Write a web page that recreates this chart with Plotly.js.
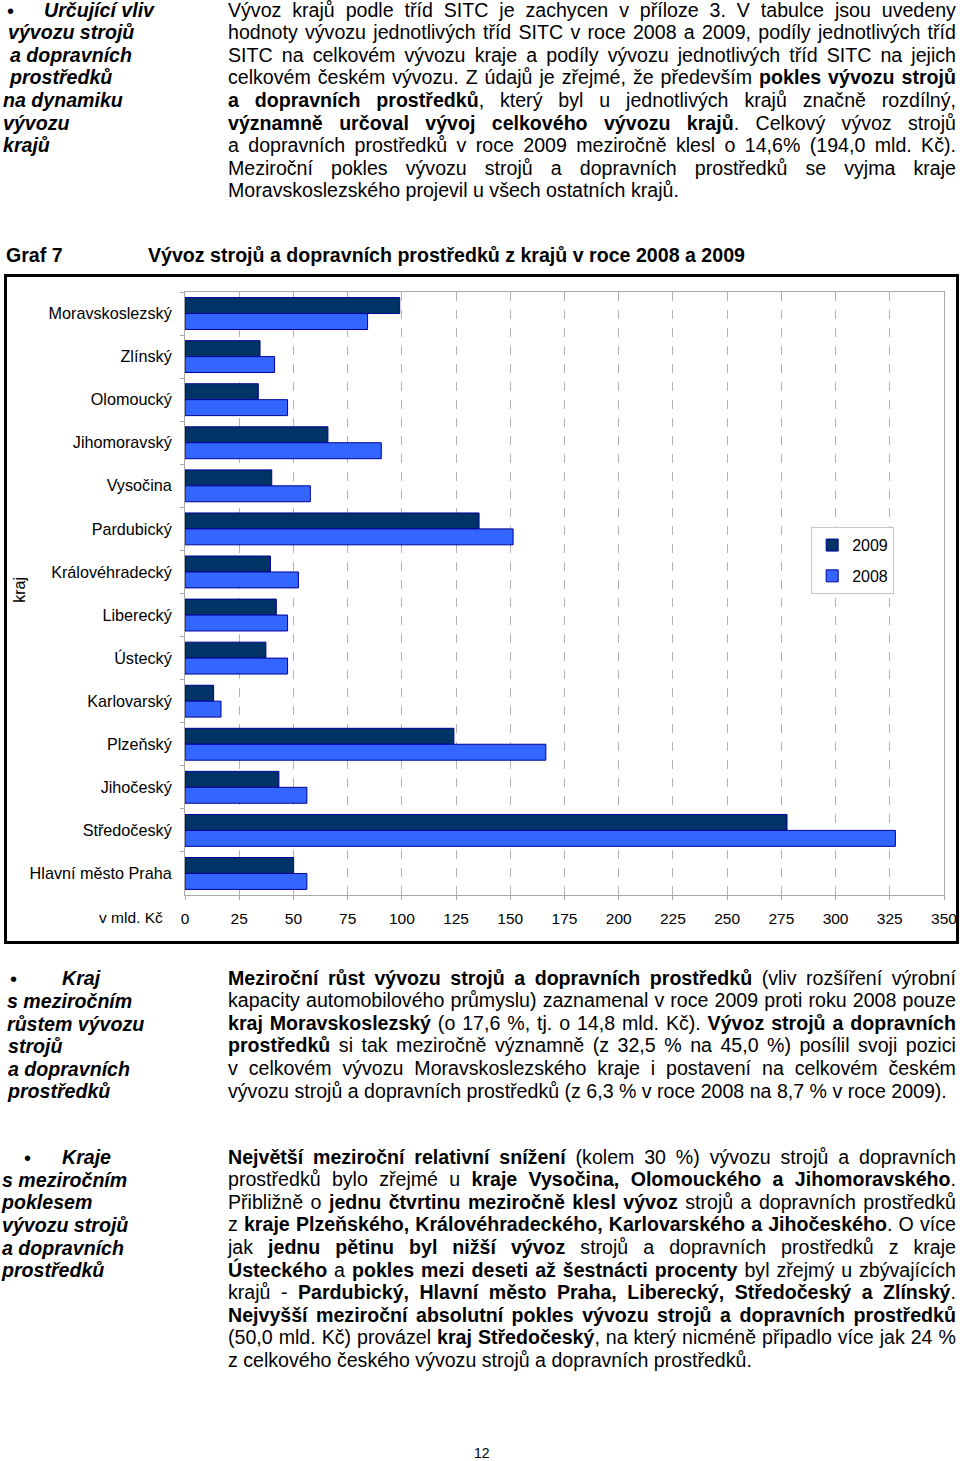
<!DOCTYPE html>
<html>
<head>
<meta charset="utf-8">
<script src="https://cdn.plot.ly/plotly-3.0.1.min.js"></script>
<style>
  html, body { margin:0; padding:0; background:#fff; }
  body { width:960px; height:1461px; position:relative; overflow:hidden;
         font-family:"Liberation Sans", Arial, sans-serif; color:#000; }
  .ln { position:absolute; height:22.6px; line-height:22.6px; font-size:19.6px; white-space:pre; }
  .jl { display:flex; justify-content:space-between; }
  .hd { font-weight:bold; font-style:italic; }
  #chart { position:absolute; left:0; top:274px; width:960px; height:672px; }
  #frame { position:absolute; left:4px; top:274px; width:955px; height:670px; box-sizing:border-box;
           border:3px solid #000; pointer-events:none; }
</style>
</head>
<body>
<div id="chart"></div>
<div id="frame"></div>
<script>
// ---------- chart data ----------
const regions = ["Moravskoslezský","Zlínský","Olomoucký","Jihomoravský","Vysočina","Pardubický",
  "Královéhradecký","Liberecký","Ústecký","Karlovarský","Plzeňský","Jihočeský","Středočeský","Hlavní město Praha"];
const export2009 = [99.0, 34.6, 33.8, 65.9, 40.0, 135.6, 39.4, 42.1, 37.3, 13.2, 124.0, 43.3, 277.6, 50.1];
const export2008 = [84.2, 41.3, 47.3, 90.5, 57.8, 151.3, 52.3, 47.3, 47.3, 16.6, 166.4, 56.2, 327.6, 56.2];
const seriesNames = ["2009", "2008"];
const xTicks = [0,25,50,75,100,125,150,175,200,225,250,275,300,325,350];

// ---------- text ----------
const topLeft = ["Určující vliv","vývozu strojů","a dopravních","prostředků","na dynamiku","vývozu","krajů"];
const topLeftX = [44,8,10,10,3,3,3];
const topRight = [
 "Vývoz krajů podle tříd SITC je zachycen v příloze 3. V tabulce jsou uvedeny",
 "hodnoty vývozu jednotlivých tříd SITC v roce 2008 a 2009, podíly jednotlivých tříd",
 "SITC na celkovém vývozu kraje a podíly vývozu jednotlivých tříd SITC na jejich",
 "celkovém českém vývozu. Z údajů je zřejmé, že především *pokles vývozu strojů*",
 "*a dopravních prostředků*, který byl u jednotlivých krajů značně rozdílný,",
 "*významně určoval vývoj celkového vývozu krajů*. Celkový vývoz strojů",
 "a dopravních prostředků v roce 2009 meziročně klesl o 14,6% (194,0 mld. Kč).",
 "Meziroční pokles vývozu strojů a dopravních prostředků se vyjma kraje",
 "Moravskoslezského projevil u všech ostatních krajů."
];
const s1Left = ["Kraj","s meziročním","růstem vývozu","strojů","a dopravních","prostředků"];
const s1LeftX = [62,7,7,8,8,8];
const s1Right = [
 "*Meziroční růst vývozu strojů a dopravních prostředků* (vliv rozšíření výrobní",
 "kapacity automobilového průmyslu) zaznamenal v roce 2009 proti roku 2008 pouze",
 "*kraj Moravskoslezský* (o 17,6 %, tj. o 14,8 mld. Kč). *Vývoz strojů a dopravních*",
 "*prostředků* si tak meziročně významně (z 32,5 % na 45,0 %) posílil svoji pozici",
 "v celkovém vývozu Moravskoslezského kraje i postavení na celkovém českém",
 "vývozu strojů a dopravních prostředků (z 6,3 % v roce 2008 na 8,7 % v roce 2009)."
];
const s2Left = ["Kraje","s meziročním","poklesem","vývozu strojů","a dopravních","prostředků"];
const s2LeftX = [62,2,2,2,2,2];
const s2Right = [
 "*Největší meziroční relativní snížení* (kolem 30 %) vývozu strojů a dopravních",
 "prostředků bylo zřejmé u *kraje Vysočina, Olomouckého a Jihomoravského*.",
 "Přibližně o *jednu čtvrtinu meziročně klesl vývoz* strojů a dopravních prostředků",
 "z *kraje Plzeňského, Královéhradeckého, Karlovarského a Jihočeského*. O více",
 "jak *jednu pětinu byl nižší vývoz* strojů a dopravních prostředků z kraje",
 "*Ústeckého* a *pokles mezi deseti až šestnácti procenty* byl zřejmý u zbývajících",
 "krajů - *Pardubický, Hlavní město Praha, Liberecký, Středočeský a Zlínský*.",
 "*Nejvyšší meziroční absolutní pokles vývozu strojů a dopravních prostředků*",
 "(50,0 mld. Kč) provázel *kraj Středočeský*, na který nicméně připadlo více jak 24 %",
 "z celkového českého vývozu strojů a dopravních prostředků."
];

const LH = 22.6, ASC = 18.08;
function segHTML(word, state) {
  let out = "", cur = "";
  for (const ch of word) {
    if (ch === "*") {
      if (cur) out += state.b ? "<b>" + cur + "</b>" : cur;
      cur = ""; state.b = !state.b;
    } else cur += ch;
  }
  if (cur) out += state.b ? "<b>" + cur + "</b>" : cur;
  return out;
}
function addLine(x, base, w, txt, justify, cls) {
  const d = document.createElement("div");
  d.className = "ln" + (cls ? " " + cls : "");
  d.style.left = x + "px";
  d.style.top = (base - ASC) + "px";
  const state = {b:false};
  const words = txt.split(" ");
  if (justify) {
    d.classList.add("jl");
    d.style.width = w + "px";
    d.innerHTML = words.map(wd => "<span>" + segHTML(wd, state) + "</span>").join("");
  } else {
    d.innerHTML = words.map(wd => segHTML(wd, state)).join(" ");
  }
  document.body.appendChild(d);
}
function addBullet(cx, base) {
  const d = document.createElement("div");
  d.className = "ln";
  d.style.left = (cx - 6) + "px";
  d.style.top = (base - ASC + 1) + "px";
  d.style.fontSize = "20px";
  d.textContent = "•";
  document.body.appendChild(d);
}
function block(leftLines, leftX, leftBase, rightLines, rightBase, bulletX) {
  leftLines.forEach((t, i) => addLine(leftX[i], leftBase + i*LH, 0, t, false, "hd"));
  addBullet(bulletX, leftBase);
  rightLines.forEach((t, i) => addLine(228, rightBase + i*LH, 728, t, i < rightLines.length - 1, ""));
}
block(topLeft, topLeftX, 16.7, topRight, 16.7, 13);
block(s1Left, s1LeftX, 985.5, s1Right, 984.7, 16);
block(s2Left, s2LeftX, 1164.3, s2Right, 1163.7, 30);

addLine(6, 262, 0, "*Graf 7*", false, "");
addLine(148, 262, 0, "*Vývoz strojů a dopravních prostředků z krajů v roce 2008 a 2009*", false, "");
const pn = document.createElement("div");
pn.style.cssText = "position:absolute;left:474px;top:1445px;font-size:14px;line-height:16px;";
pn.textContent = "12";
document.body.appendChild(pn);

// ---------- chart ----------
const fnt = "Liberation Sans, Arial, sans-serif";
const traces = [
  {type:"bar", orientation:"h", name:seriesNames[0], y:regions, x:export2009, legendgroup:"g1",
   marker:{color:"#003366", line:{color:"#000099", width:1}}},
  {type:"bar", orientation:"h", name:seriesNames[1], y:regions, x:export2008, legendgroup:"g2",
   marker:{color:"#3366FF", line:{color:"#000099", width:1}}}
];
const layout = {
  width:960, height:672,
  margin:{l:185, r:16.4, t:18, b:51, pad:0},
  paper_bgcolor:"rgba(0,0,0,0)", plot_bgcolor:"#fff",
  font:{family:fnt, size:16, color:"#000"},
  barmode:"group", bargap:0.26, bargroupgap:0,
  showlegend:true,
  legend:{x:0.825, y:0.61, xanchor:"left", yanchor:"top", bgcolor:"#fff",
          bordercolor:"#c8c8c8", borderwidth:1, font:{size:16, family:fnt},
          traceorder:"grouped", tracegroupgap:7, itemwidth:30},
  xaxis:{range:[0,350], tickvals:xTicks, ticktext:xTicks.map(String), showgrid:true, gridcolor:"#b4b4b4",
         griddash:"dash", gridwidth:1, zeroline:false, showline:true, linecolor:"#a8a8a8", mirror:true,
         ticks:"outside", ticklen:4, tickcolor:"#a8a8a8", tickfont:{size:15.5, family:fnt}, ticklabelstandoff:5},
  yaxis:{type:"category", autorange:"reversed", tickson:"boundaries", ticks:"outside", ticklen:4,
         tickcolor:"#a8a8a8", showline:true, linecolor:"#a8a8a8", mirror:true, showgrid:false,
         tickfont:{size:16.2, family:fnt}, ticklabelstandoff:9},
  annotations:[
    {text:"v mld. Kč", xref:"paper", yref:"paper", x:-0.026, y:-0.0365,
     xanchor:"right", yanchor:"middle", showarrow:false, font:{size:15.5, family:fnt}},
    {text:"kraj", xref:"paper", yref:"paper", x:-0.2175, y:0.506, textangle:-90,
     xanchor:"center", yanchor:"middle", showarrow:false, font:{size:16, family:fnt}}
  ]
};
Plotly.newPlot("chart", traces, layout, {staticPlot:true, displayModeBar:false});
</script>
</body>
</html>
